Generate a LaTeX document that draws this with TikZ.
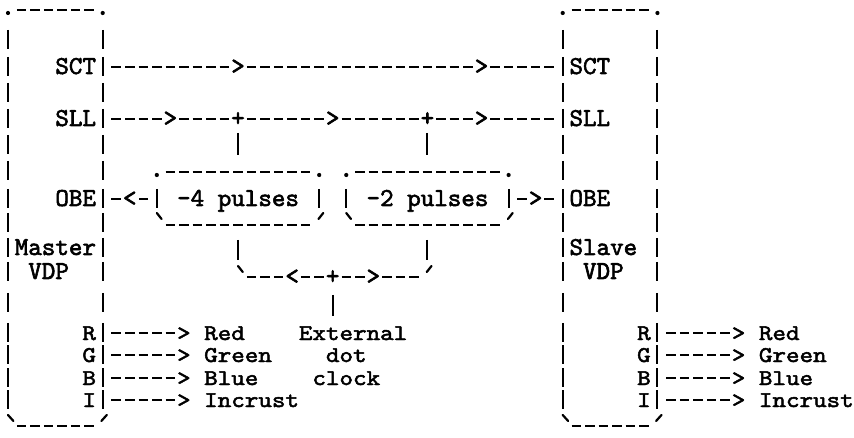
\documentclass[tikz,border=0pt]{standalone}
\usepackage{fontspec}
\newfontfamily\asc[FakeBold=2.2]{lmmono10-regular.otf}
\newfontfamily\ascs[FakeBold=2.2, FakeStretch=1.1467]{lmmono10-regular.otf}
\begin{document}
\begin{tikzpicture}[x=13.53pt,y=-1pt,
  asc/.style={font=\asc\fontsize{25.8}{26}\selectfont, inner sep=0pt, outer sep=0pt,
              text height=15pt, text depth=2.5pt},
  ascsmall/.style={font=\ascs\fontsize{22.5}{23}\selectfont, inner sep=0pt, outer sep=0pt,
              text height=14pt, text depth=2.5pt},
  lbl/.style={asc, anchor=base west},
  glyph/.style={asc, anchor=base, fill=white},
  slbl/.style={ascsmall, anchor=base west},
  sglyph/.style={ascsmall, anchor=base, fill=white},
  hdash/.style={line width=2pt, dash pattern=on 9.5pt off 4.03pt},
  bar/.style={line width=2pt},
  tick/.style={line width=2.2pt, line cap=round},
  corner/.style={circle, fill=black, inner sep=0pt, minimum size=4.2pt},
]
\begin{scope}[xshift=8pt]
\fill[white] (-0.5913,0) rectangle (62.5277,438);
\useasboundingbox (-0.5913,0) rectangle (62.5277,438);

% ---------- big boxes (Master cols 0-7, Slave cols 41-48)
\foreach \l/\r/\n in {0/7/m,41/48/s}{
  \node[corner] (\n tl) at (\l,13) {};
  \node[corner] (\n tr) at (\r,13) {};
  \draw[hdash] ({\l+0.649},10) -- ({\r-0.649},10);
  \foreach \b in {47,74,100,126,152,178,206,230,255,279,310,340,362,385,407}{
    \draw[bar] (\l,{\b-17}) -- (\l,{\b+2});
    \draw[bar] (\r,{\b-17}) -- (\r,{\b+2});
  }
  \draw[tick] (\l,415) -- ({\l+0.4},421);
  \draw[tick] ({\r+0.3},415) -- ({\r-0.1},421);
  \draw[hdash] ({\l+0.649},426) -- ({\r-0.649},426);
}

% ---------- labels inside the big boxes
\node[lbl] (mSCT) at (3.5,74) {SCT};
\node[lbl] (mSLL) at (3.5,126) {SLL};
\node[lbl] (mOBE) at (3.5,206) {OBE};
\node[lbl] (mName) at (0.5,255) {Master};
\node[lbl] (mVDP) at (1.5,279) {VDP};
\node[slbl] (mR) at (5.5,340) {R};
\node[slbl] (mG) at (5.5,362) {G};
\node[slbl] (mB) at (5.5,385) {B};
\node[slbl] (mI) at (5.5,407) {I};

\node[lbl] (sSCT) at (41.5,74) {SCT};
\node[lbl] (sSLL) at (41.5,126) {SLL};
\node[lbl] (sOBE) at (41.5,206) {OBE};
\node[lbl] (sName) at (41.5,255) {Slave};
\node[lbl] (sVDP) at (42.5,279) {VDP};
\node[slbl] (sR) at (46.5,340) {R};
\node[slbl] (sG) at (46.5,362) {G};
\node[slbl] (sB) at (46.5,385) {B};
\node[slbl] (sI) at (46.5,407) {I};

% ---------- pulse boxes
\foreach \l/\r/\n in {11/23/p4,25/37/p2}{
  \node[corner] (\n tl) at (\l,175) {};
  \node[corner] (\n tr) at (\r,175) {};
  \draw[hdash] ({\l+0.649},172) -- ({\r-0.649},172);
  \draw[bar] (\l,189) -- (\l,208);
  \draw[bar] (\r,189) -- (\r,208);
  \draw[tick] (\l,213) -- ({\l+0.35},219);
  \draw[tick] ({\r+0.3},213) -- ({\r-0.05},219);
  \draw[hdash] ({\l+0.649},225) -- ({\r-0.649},225);
}
\node[lbl] (p4) at (12.5,206) {-4 pulses};
\node[lbl] (p2) at (26.5,206) {-2 pulses};

% ---------- SCT line
\coordinate (mSCTpin) at (7.649,67);
\coordinate (sSCTpin) at (40.351,67);
\draw[hdash] (mSCTpin) -- (sSCTpin);
\node[glyph] (sct1) at (17,74) {>};
\node[glyph] (sct2) at (35,74) {>};

% ---------- SLL line
\coordinate (mSLLpin) at (7.649,119);
\coordinate (sSLLpin) at (40.351,119);
\draw[hdash] (mSLLpin) -- (sSLLpin);
\node[glyph] (sll1) at (12,126) {>};
\node[glyph] (sll2) at (24,126) {>};
\node[glyph] (sll3) at (35,126) {>};
\node[glyph] (j1) at (17,126) {+};
\node[glyph] (j2) at (31,126) {+};
\coordinate (j1c) at (17,119);
\coordinate (j2c) at (31,119);
\coordinate (p4top) at (17,172);
\coordinate (p2top) at (31,172);
\draw[bar, shorten <=14pt, shorten >=17pt] (j1c) -- (p4top);
\draw[bar, shorten <=14pt, shorten >=17pt] (j2c) -- (p2top);

% ---------- OBE lines
\coordinate (mOBEpin) at (7.649,199);
\coordinate (p4west) at (10.351,199);
\draw[hdash] (p4west) -- (mOBEpin);
\node[glyph] (obe1) at (9,206) {<};
\coordinate (p2east) at (37.649,199);
\coordinate (sOBEpin) at (40.351,199);
\draw[hdash] (p2east) -- (sOBEpin);
\node[glyph] (obe2) at (39,206) {>};

% ---------- clock distribution
\coordinate (p4bot) at (17,225);
\coordinate (p2bot) at (31,225);
\coordinate (p4drop) at (17,260);
\coordinate (p2drop) at (31,260);
\draw[bar, shorten <=15pt] (p4bot) -- (p4drop);
\draw[bar, shorten <=15pt] (p2bot) -- (p2drop);
\draw[tick] (17,266) -- (17.35,272);
\draw[tick] (31.3,266) -- (30.95,272);
\coordinate (brL) at (17.649,277);
\coordinate (brR) at (30.351,277);
\draw[hdash] (brL) -- (brR);
\node[glyph] (br1) at (21,284) {<};
\node[glyph] (plus) at (24,284) {+};
\node[glyph] (br2) at (27,284) {>};

\node[slbl] (ext1) at (21.5,340) {External};
\node[slbl] (ext2) at (23.5,362) {dot};
\node[slbl] (ext3) at (22.5,385) {clock};
\coordinate (plusc) at (24,277);
\coordinate (extc) at (24,322);
\draw[bar, shorten <=18pt, shorten >=6pt] (plusc) -- (extc);

% ---------- colour outputs
\foreach \b/\t/\k in {340/Red/R,362/Green/G,385/Blue/B,407/Incrust/I}{
  \node[slbl] (mout\k) at (14.5,\b) {\t};
  \node[slbl] (sout\k) at (55.5,\b) {\t};
  \draw[hdash] (7.649,{\b-7}) -- (12.351,{\b-7});
  \draw[hdash] (48.649,{\b-7}) -- (53.351,{\b-7});
  \node[sglyph] (marr\k) at (13,\b) {>};
  \node[sglyph] (sarr\k) at (54,\b) {>};
}
\end{scope}
\end{tikzpicture}
\end{document}
